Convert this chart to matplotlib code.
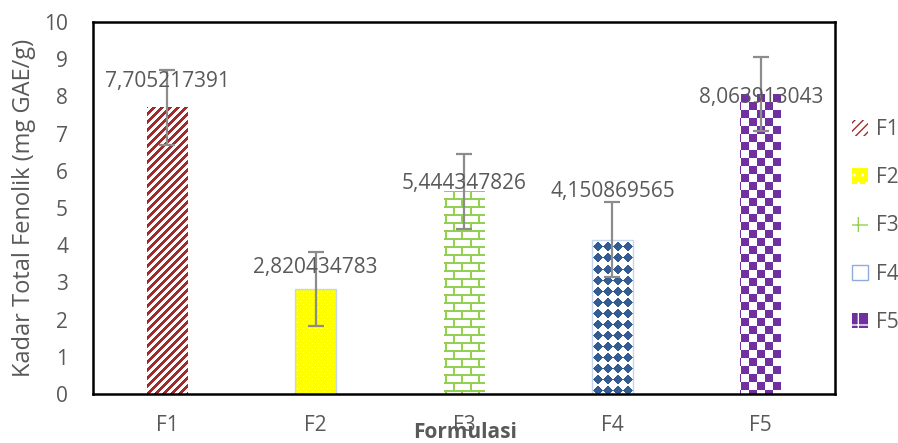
import numpy as np
import matplotlib
matplotlib.use("Agg")
import matplotlib.pyplot as plt
from matplotlib.patches import Patch

# data
formulas = ["F1", "F2", "F3", "F4", "F5"]
phenolic = [7.705217391, 2.820434783, 5.444347826, 4.150869565, 8.063913043]
errors = [1.0, 1.0, 1.0, 1.0, 1.0]
# where the (hand-moved) value labels sit, in data units
label_pos = [8.39, 3.39, 5.67, 5.45, 7.98]

plt.rcParams["font.family"] = ["Open Sans", "DejaVu Sans"]
grey = "#595959"

fig = plt.figure(figsize=(8.98, 4.43), dpi=100)
ax = fig.add_axes([0.1036, 0.1106, 0.8263, 0.8397])

x = np.arange(len(formulas))
bars = ax.bar(x, phenolic, width=0.276, facecolor="none", edgecolor="none", zorder=2)

# pixel pattern fills, clipped to each bar
H, W = 372, 742
r, c = np.mgrid[0:H, 0:W]


def fill(mask, fg, bg=(255, 255, 255)):
    img = np.empty((H, W, 3), dtype=np.uint8)
    img[:] = bg
    img[mask] = fg
    return img


stripes = ((c + r) % 8) < 4
dots = ((r % 6 == 0) & (c % 6 == 0)) | ((r % 6 == 3) & (c % 6 == 3))
course = r // 8
bricks = (r % 8 < 2) | (((c + 8 * (course % 2)) % 16) < 2)
dx = (c % 10) - 4.5
dy = (r % 11) - 5
diamonds = (np.abs(dx) + np.abs(dy)) <= 4.5
checker = ((r // 8) + (c // 8)) % 2 == 0

patterns = [
    fill(stripes, (158, 44, 44)),
    fill(dots, (255, 255, 255), bg=(255, 255, 0)),
    fill(bricks, (146, 208, 80)),
    fill(diamonds, (51, 92, 146)),
    fill(checker, (112, 48, 160)),
]

for bar, pat in zip(bars, patterns):
    im = ax.imshow(pat, extent=(-0.5, 4.5, 0, 10), aspect="auto",
                   interpolation="nearest", zorder=1)
    im.set_clip_path(bar)

# thin light-blue outline on F2 and F4
for i in (1, 3):
    bars[i].set_edgecolor("#C5D5EE")
    bars[i].set_linewidth(1.0)

ax.errorbar(x, phenolic, yerr=errors, fmt="none", ecolor="#8C8C8C",
            elinewidth=1.6, capsize=6, capthick=1.6, zorder=3)

for xi, v, ly in zip(x, phenolic, label_pos):
    ax.text(xi, ly, f"{v:.9f}".replace(".", ","), ha="center", va="center",
            color=grey, fontsize=15, zorder=4)

ax.set_xlim(-0.5, 4.5)
ax.set_ylim(0, 10)
ax.set_yticks(range(0, 11))
ax.set_xticks(x)
ax.set_xticklabels(formulas)
ax.tick_params(length=0, labelsize=15, colors=grey)
ax.tick_params(axis="y", pad=18)
ax.tick_params(axis="x", pad=15)
for s in ax.spines.values():
    s.set_linewidth(1.8)
    s.set_color("black")

ax.set_ylabel("Kadar Total Fenolik (mg GAE/g)", fontsize=17, color=grey, labelpad=6)
fig.text(465 / 898, 1 - 433 / 443, "Formulasi", ha="center", va="center",
         fontsize=15, fontweight="bold", color=grey)

handles = [
    Patch(facecolor="white", edgecolor="#9E2C2C", hatch="////", linewidth=0),
    Patch(facecolor="#FFFF00", edgecolor="white", hatch="..", linewidth=0),
    Patch(facecolor="white", edgecolor="#92D050", hatch="+", linewidth=0),
    Patch(facecolor="white", edgecolor="#8FAADC", linewidth=1),
    Patch(facecolor="#7030A0", edgecolor="white", hatch="+", linewidth=0),
]
leg = fig.legend(handles, formulas, loc="center left", bbox_to_anchor=(0.940, 0.49),
                 frameon=False, fontsize=15, handlelength=0.75, handleheight=0.75,
                 handletextpad=0.4, labelspacing=1.3, borderaxespad=0)
for t in leg.get_texts():
    t.set_color(grey)

fig.savefig("out.png", dpi=100)
